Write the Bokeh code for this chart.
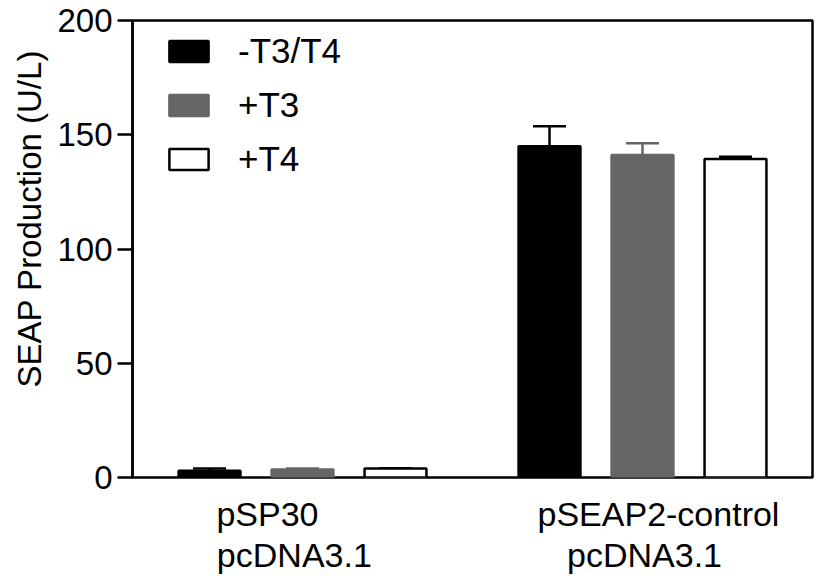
from bokeh.plotting import figure
from bokeh.models import (Range1d, ColumnDataSource, Whisker, TeeHead, FixedTicker,
                          LinearAxis, CustomJSTickFormatter, Title)
from bokeh.embed import file_html
from bokeh.resources import INLINE

# ---- data ----
group_line1 = ["pSP30", "pSEAP2-control"]
group_line2 = ["pcDNA3.1", "pcDNA3.1"]
series_names = ["-T3/T4", "+T3", "+T4"]
minus_t3t4 = [3.0, 145.0]
minus_t3t4_err = [0.9, 8.7]
plus_t3 = [3.5, 141.1]
plus_t3_err = [0.4, 5.2]
plus_t4 = [3.9, 139.4]
plus_t4_err = [0.2, 1.0]
y_ticks = [0, 50, 100, 150, 200]
y_label = "SEAP Production (U/L)"

# ---- style / layout ----
FONT = "Liberation Sans"
BLACK = "#000000"
GRAY = "#666666"
WHITE = "#ffffff"
LW = 2.5
BAR_W = 0.182
OFFSETS = [-0.2735, 0.0, 0.2735]
LINE1_X_SHIFT = [-0.103, 0.047]
LINE2_X_SHIFT = [-0.024, 0.006]

p = figure(width=814, height=576,
           min_border_left=132, min_border_right=2,
           min_border_top=20, min_border_bottom=98,
           x_range=Range1d(0, 2), y_range=Range1d(0, 200),
           output_backend="svg", toolbar_location=None)
p.grid.visible = False
p.outline_line_color = BLACK
p.outline_line_width = LW
p.outline_line_alpha = 1.0
p.background_fill_color = WHITE
p.border_fill_color = WHITE

yax = p.yaxis[0]
yax.ticker = FixedTicker(ticks=y_ticks)
yax.major_tick_out = 15
yax.major_tick_in = 0
yax.minor_tick_line_color = None
yax.major_tick_line_width = LW
yax.major_tick_line_color = BLACK
yax.axis_line_width = LW
yax.axis_line_color = BLACK
yax.major_label_text_font = FONT
yax.major_label_text_font_size = "33px"
yax.major_label_text_color = BLACK
yax.major_label_standoff = 5

centers = [i + 0.5 for i in range(len(group_line1))]
series_vals = [minus_t3t4, plus_t3, plus_t4]
series_errs = [minus_t3t4_err, plus_t3_err, plus_t4_err]
fills = [BLACK, GRAY, WHITE]
lines = [BLACK, GRAY, BLACK]

for k in range(3):
    xs = [c + OFFSETS[k] for c in centers]
    vals = series_vals[k]
    errs = series_errs[k]
    src = ColumnDataSource(dict(x=xs, top=vals, upper=[v + e for v, e in zip(vals, errs)]))
    p.vbar(x="x", top="top", bottom=0, width=BAR_W, source=src,
           fill_color=fills[k], line_color=lines[k], line_width=LW,
           legend_label=series_names[k])
    w = Whisker(base="x", lower="top", upper="upper", source=src, dimension="height",
                lower_head=None,
                upper_head=TeeHead(size=33, line_color=lines[k], line_width=LW),
                line_color=lines[k], line_width=LW)
    p.add_layout(w)

leg = p.legend[0]
leg.location = (32, 298)
leg.margin = 0
leg.padding = 0
leg.spacing = 14
leg.glyph_width = 49
leg.glyph_height = 26
leg.label_standoff = 25
leg.label_text_font = FONT
leg.label_text_font_size = "35px"
leg.label_text_color = BLACK
leg.border_line_color = None
leg.background_fill_alpha = 0


def style_x_axis(ax, positions, labels, standoff):
    ax.ticker = FixedTicker(ticks=positions)
    ax.formatter = CustomJSTickFormatter(args=dict(labels=labels), code="return labels[index];")
    ax.major_tick_out = 0
    ax.major_tick_in = 0
    ax.minor_tick_line_color = None
    ax.major_tick_line_color = None
    ax.axis_line_color = None
    ax.major_label_standoff = standoff
    ax.major_label_text_font = FONT
    ax.major_label_text_font_size = "34px"
    ax.major_label_text_color = BLACK


# x category labels: two rows
line1_pos = [c + s for c, s in zip(centers, LINE1_X_SHIFT)]
line2_pos = [c + s for c, s in zip(centers, LINE2_X_SHIFT)]
style_x_axis(p.xaxis[0], line1_pos, group_line1, 17)
ax2 = LinearAxis()
style_x_axis(ax2, line2_pos, group_line2, 0)
p.add_layout(ax2, "below")

# y axis title (shifted upward like the reference)
ytitle = Title(text=y_label, align="left", offset=90, standoff=14,
               text_font=FONT, text_font_size="33px", text_font_style="normal",
               text_color=BLACK)
p.add_layout(ytitle, "left")

open("out.html", "w").write(file_html(p, INLINE))
